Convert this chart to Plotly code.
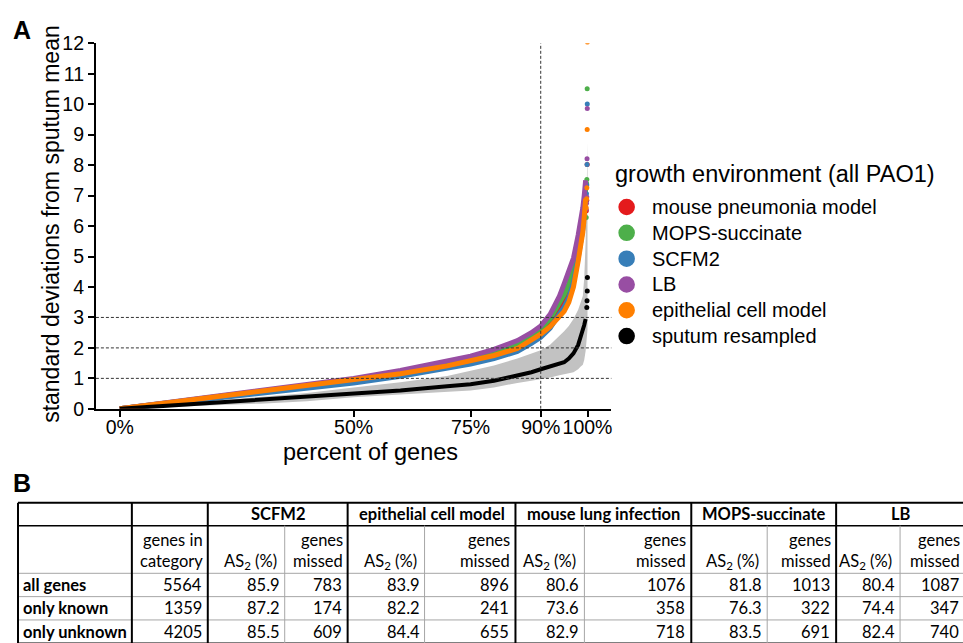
import plotly.graph_objects as go

W, H = 963, 643

# ---------------- Panel A data ----------------
pct = [0, 10, 20, 30, 40, 50, 60, 70, 75, 80, 85, 88, 90, 92, 94, 95, 96, 97, 98, 98.5, 99, 99.3, 99.6]

mouse_pneumonia = [0, 0.18, 0.36, 0.53, 0.71, 0.90, 1.12, 1.39, 1.54, 1.74, 2.00, 2.28, 2.50, 2.80, 3.25, 3.50, 3.85, 4.35, 5.10, 5.55, 6.10, 6.55, 7.00]
mops_succinate = [0, 0.19, 0.38, 0.57, 0.76, 0.96, 1.21, 1.48, 1.65, 1.86, 2.13, 2.40, 2.62, 2.95, 3.45, 3.75, 4.10, 4.55, 5.30, 5.80, 6.30, 6.70, 7.20]
scfm2 = [0, 0.17, 0.34, 0.50, 0.67, 0.85, 1.07, 1.33, 1.47, 1.65, 1.88, 2.15, 2.35, 2.65, 3.10, 3.35, 3.65, 4.15, 4.95, 5.40, 5.90, 6.40, 6.90]
lb = [0, 0.20, 0.40, 0.59, 0.78, 1.00, 1.26, 1.55, 1.73, 1.95, 2.24, 2.50, 2.72, 3.10, 3.70, 4.10, 4.50, 4.95, 5.70, 6.10, 6.60, 7.00, 7.50]
epithelial = [0, 0.19, 0.37, 0.55, 0.73, 0.93, 1.15, 1.41, 1.56, 1.75, 1.98, 2.25, 2.45, 2.70, 3.00, 3.20, 3.50, 4.00, 4.85, 5.30, 5.80, 6.30, 6.90]
sputum = [0, 0.10, 0.19, 0.28, 0.39, 0.49, 0.60, 0.74, 0.81, 0.92, 1.08, 1.20, 1.30, 1.38, 1.47, 1.53, 1.65, 1.82, 2.10, 2.32, 2.58, 2.75, 2.95]

# top-most individual genes (tail points near 100%)
mouse_tail_x = [99.75, 99.85, 99.93]
mouse_tail_y = [6.50, 6.85, 8.02]
mops_tail_x = [99.72, 99.8, 99.86, 99.93]
mops_tail_y = [6.28, 7.40, 7.53, 10.51]
scfm2_tail_x = [99.7, 99.78, 99.84, 99.9, 99.95]
scfm2_tail_y = [6.85, 7.06, 7.35, 8.02, 10.01]
lb_tail_x = [99.7, 99.78, 99.84, 99.9, 99.95]
lb_tail_y = [6.55, 6.75, 6.95, 8.21, 9.86]
epithelial_tail_x = [99.72, 99.8, 99.86, 99.93, 99.98]
epithelial_tail_y = [6.60, 6.90, 7.26, 9.17, 12.04]
sputum_tail_x = [99.85, 99.9, 99.95, 99.98]
sputum_tail_y = [3.33, 3.55, 3.87, 4.31]

# grey range of resampled sputum
band_x = [0, 10, 20, 30, 40, 50, 60, 70, 75, 80, 85, 88, 90, 92, 94, 95, 96, 97, 98, 98.5, 99, 99.3, 99.6, 99.8, 100]
band_upper = [0, 0.13, 0.26, 0.39, 0.52, 0.70, 0.87, 1.08, 1.26, 1.42, 1.65, 1.80, 1.92, 2.10, 2.38, 2.55, 2.72, 2.95, 3.25, 3.45, 3.70, 4.30, 5.50, 7.00, 8.75]
band_lower = [0, 0.05, 0.11, 0.17, 0.25, 0.38, 0.47, 0.55, 0.60, 0.70, 0.85, 0.92, 0.97, 1.03, 1.10, 1.13, 1.16, 1.20, 1.30, 1.38, 1.45, 1.60, 1.90, 2.20, 2.60]

series_names = ["mouse pneumonia model", "MOPS-succinate", "SCFM2", "LB", "epithelial cell model", "sputum resampled"]
series_values = [mouse_pneumonia, mops_succinate, scfm2, lb, epithelial, sputum]
tails_x = [mouse_tail_x, mops_tail_x, scfm2_tail_x, lb_tail_x, epithelial_tail_x, sputum_tail_x]
tails_y = [mouse_tail_y, mops_tail_y, scfm2_tail_y, lb_tail_y, epithelial_tail_y, sputum_tail_y]
colors = ["#e41a1c", "#4daf4a", "#377eb8", "#984ea3", "#ff7f00", "#000000"]
legend_title = "growth environment (all PAO1)"

x_title = "percent of genes"
y_title = "standard deviations from sputum mean"
x_tickvals = [0, 50, 75, 90, 100]
x_ticktext = ["0%", "50%", "75%", "90%", "100%"]
ref_levels = [1, 2, 3]
ref_pct = 90

# ---------------- Panel B data ----------------
groups = ["SCFM2", "epithelial cell model", "mouse lung infection", "MOPS-succinate", "LB"]
row_labels = ["all genes", "only known", "only unknown"]
genes_in_category = [5564, 1359, 4205]
as2_pct = [[85.9, 87.2, 85.5], [83.9, 82.2, 84.4], [80.6, 73.6, 82.9], [81.8, 76.3, 83.5], [80.4, 74.4, 82.4]]
genes_missed = [[783, 174, 609], [896, 241, 655], [1076, 358, 718], [1013, 322, 691], [1087, 347, 740]]


def px(x):
    return x / W


def sy(y):
    # compensate the vertical squeeze observed in the rendered page
    return (y - 7.5) / 0.973


def py(y):
    return 1 - sy(y) / H


AFONT = "Liberation Sans, Arial, sans-serif"
TFONT = "Lato, Liberation Sans, sans-serif"

fig = go.Figure()

# grey band
fig.add_trace(go.Scatter(
    x=band_x + band_x[::-1], y=band_upper + band_lower[::-1],
    fill="toself", fillcolor="#c2c2c2", mode="lines", line=dict(width=0),
    hoverinfo="skip", showlegend=False))

for name, vals, tx, ty, col in zip(series_names, series_values, tails_x, tails_y, colors):
    fig.add_trace(go.Scatter(
        x=pct, y=vals, mode="lines", line=dict(color=col, width=5 if col != "#000000" else 4),
        name=name, legendgroup=name, showlegend=False))
    fig.add_trace(go.Scatter(
        x=tx, y=ty, mode="markers", marker=dict(color=col, size=5),
        name=name, legendgroup=name, showlegend=False))

shapes = []
for lv in ref_levels:
    shapes.append(dict(type="line", xref="x domain", yref="y", x0=0, x1=1, y0=lv, y1=lv,
                       line=dict(color="#333333", width=1, dash="3px,2px"), layer="above"))
shapes.append(dict(type="line", xref="x", yref="y", x0=ref_pct, x1=ref_pct, y0=0, y1=12,
                   line=dict(color="#333333", width=1, dash="3px,2px"), layer="above"))

annotations = []


def note(text, x, y, size, anchor="left", family=AFONT, angle=0):
    annotations.append(dict(text=text, x=px(x), y=py(y), xref="paper", yref="paper",
                            xanchor=anchor, yanchor="middle", showarrow=False, textangle=angle,
                            font=dict(family=family, size=size, color="black")))


note("<b>A</b>", 11, 27, 25)
note("<b>B</b>", 11, 483, 25)
note(x_title, 371, 452, 23.5, anchor="center")
note(y_title, 51, 222, 23, anchor="center", angle=-90)

# legend (drawn as dots + labels)
leg_top = 171.5
leg_first = 205
leg_step = 26
note(legend_title, 614, leg_top, 23.5)
for k, (name, col) in enumerate(zip(series_names, colors)):
    yc = leg_first + k * leg_step
    r = 8.3
    shapes.append(dict(type="circle", xref="paper", yref="paper",
                       x0=px(627.3 - r), x1=px(627.3 + r), y0=py(yc + r), y1=py(yc - r),
                       fillcolor=col, line=dict(width=0)))
    note(name, 651, yc, 20)

# ---------------- Table (panel B) ----------------
col_edges = [18, 132, 208, 285, 348, 425, 516, 585, 692, 768, 837, 901, 966]
row_edges = [503, 526, 574, 597.5, 621, 644.5]
thick_cols = [0, 1, 2, 4, 6, 8, 10, 12]
BLACK = "#000000"
GREY = "#a6a6a6"

for i, yv in enumerate(row_edges):
    if i <= 1 or i == len(row_edges) - 1:
        shapes.append(dict(type="line", xref="paper", yref="paper", x0=px(col_edges[0]), x1=px(col_edges[-1]),
                           y0=py(yv), y1=py(yv), line=dict(color=BLACK, width=2 if i == 0 else 1.5)))
    else:
        shapes.append(dict(type="line", xref="paper", yref="paper", x0=px(col_edges[0]), x1=px(col_edges[-1]),
                           y0=py(yv), y1=py(yv), line=dict(color=GREY, width=1)))
for j, xv in enumerate(col_edges):
    if j in thick_cols:
        shapes.append(dict(type="line", xref="paper", yref="paper", x0=px(xv), x1=px(xv),
                           y0=py(row_edges[0]), y1=py(row_edges[-1]), line=dict(color=BLACK, width=2)))
    else:
        shapes.append(dict(type="line", xref="paper", yref="paper", x0=px(xv), x1=px(xv),
                           y0=py(row_edges[1]), y1=py(row_edges[-1]), line=dict(color=GREY, width=1)))


def tcell(text, x, y, anchor="right", bold=False):
    note(("<b>%s</b>" % text) if bold else text, x, y, 16.5, anchor=anchor, family=TFONT)


for g, name in enumerate(groups):
    xl = col_edges[2 + 2 * g]
    xr = col_edges[4 + 2 * g]
    tcell(name, (xl + xr) / 2, (row_edges[0] + row_edges[1]) / 2, anchor="center", bold=True)

y_l1 = 540
y_l2 = 562
tcell("genes in", col_edges[2] - 3, y_l1)
tcell("category", col_edges[2] - 3, y_l2)
for g in range(len(groups)):
    xa = col_edges[3 + 2 * g]
    xm = col_edges[4 + 2 * g]
    tcell("AS<sub>2</sub> (%)", xa - 6, y_l2)
    tcell("genes", xm - 3, y_l1)
    tcell("missed", xm - 3, y_l2)

for r, lab in enumerate(row_labels):
    yc = (row_edges[2 + r] + row_edges[3 + r]) / 2
    tcell(lab, col_edges[0] + 3, yc, anchor="left", bold=True)
    tcell(str(genes_in_category[r]), col_edges[2] - 4, yc)
    for g in range(len(groups)):
        tcell("%.1f" % as2_pct[g][r], col_edges[3 + 2 * g] - 3, yc)
        tcell(str(genes_missed[g][r]), col_edges[4 + 2 * g] - 4, yc)

axis_common = dict(showline=True, linecolor="black", linewidth=2, ticks="outside", ticklen=6,
                   tickwidth=2, tickcolor="black", showgrid=False, zeroline=False,
                   tickfont=dict(family=AFONT, size=19.5, color="black"))

fig.update_layout(
    width=W, height=H,
    margin=dict(l=0, r=0, t=0, b=0),
    paper_bgcolor="white", plot_bgcolor="white",
    font=dict(family=AFONT, color="black"),
    xaxis=dict(domain=[px(96), px(612)], range=[-5.1, 105.1], tickvals=x_tickvals, ticktext=x_ticktext,
               anchor="y", ticklabelstandoff=-6, **axis_common),
    yaxis=dict(domain=[py(408.3), py(40)], range=[0, 12], tickvals=list(range(13)), anchor="x",
               **axis_common),
    shapes=shapes,
    annotations=annotations,
    showlegend=False,
)

fig.write_html("out.html")
